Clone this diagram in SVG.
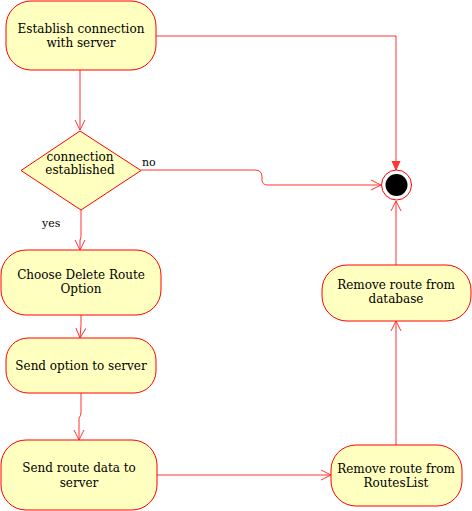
<svg xmlns="http://www.w3.org/2000/svg" width="472" height="511" viewBox="0 0 472 511">
<defs>
<style>
.node{fill:#FFFFC0;stroke:#FF0000;stroke-width:1}
.t{font-family:"DejaVu Serif",serif;font-size:12px;fill:#000;text-anchor:middle}
.lbl{font-family:"DejaVu Serif",serif;font-size:11px;fill:#000}
.c{fill:none;stroke:#FF3333;stroke-width:1}
</style>
<marker id="open" markerWidth="12" markerHeight="12" refX="10" refY="5" orient="auto" markerUnits="userSpaceOnUse" viewBox="0 0 12 10">
<path d="M0,0 L10,5 L0,10" fill="none" stroke="#FF3333" stroke-width="1"/>
</marker>
<marker id="fill" markerWidth="10" markerHeight="10" refX="9" refY="4" orient="auto" markerUnits="userSpaceOnUse" viewBox="0 0 10 8">
<path d="M0,0 L9,4 L0,8 Z" fill="#FF3333" stroke="#FF3333"/>
</marker>
</defs>
<rect width="472" height="511" fill="#fff"/>
<g id="connectors">
<path class="c" d="M80,70 L80,130" marker-end="url(#open)"/>
<path class="c" d="M156,36 L396,36 L396,170" marker-end="url(#fill)"/>
<path class="c" d="M141,170 L255,170 Q262,170 262,177 L262,180 Q262,185 268,185 L381,185" marker-end="url(#open)"/>
<path class="c" d="M81,210 L81,235 Q81,238 80,240 L80,250" marker-end="url(#open)"/>
<path class="c" d="M81,315 L81,325 L80,338" marker-end="url(#open)"/>
<path class="c" d="M81,393 L81,412 Q81,416 79,418 L79,440" marker-end="url(#open)"/>
<path class="c" d="M157,475 L331,475" marker-end="url(#open)"/>
<path class="c" d="M396,445 L396,321" marker-end="url(#open)"/>
<path class="c" d="M396,265 L396,201" marker-end="url(#open)"/>
</g>
<g id="n1"><rect class="node" x="6" y="1" width="150" height="69" rx="25"/><text class="t" x="81" y="33">Establish connection</text><text class="t" x="81" y="47">with server</text></g>
<g id="decision"><polygon class="node" points="80,131 141,170.5 81,210 21,170.5"/><text class="t" x="80" y="161">connection</text><text class="t" x="80" y="174">established</text></g>
<g id="lbl-no"><text class="lbl" x="142" y="166">no</text></g>
<g id="lbl-yes"><text class="lbl" x="42" y="227">yes</text></g>
<g id="n2"><rect class="node" x="1" y="250" width="160" height="65" rx="25"/><text class="t" x="81" y="279">Choose Delete Route</text><text class="t" x="81" y="293">Option</text></g>
<g id="n3"><rect class="node" x="6" y="338" width="150" height="55" rx="22"/><text class="t" x="81" y="370">Send option to server</text></g>
<g id="n4"><rect class="node" x="1" y="440" width="156" height="70" rx="25"/><text class="t" x="79" y="472">Send route data to</text><text class="t" x="79" y="487">server</text></g>
<g id="n5"><rect class="node" x="331" y="445" width="131" height="61" rx="25"/><text class="t" x="396" y="473">Remove route from</text><text class="t" x="396" y="487">RoutesList</text></g>
<g id="n6"><rect class="node" x="322" y="265" width="149" height="56" rx="25"/><text class="t" x="396" y="289">Remove route from</text><text class="t" x="396" y="303">database</text></g>
<g id="end"><circle cx="396.5" cy="185" r="15" fill="#fff" stroke="#FF0000"/><circle cx="396.5" cy="185" r="11" fill="#000"/></g>
</svg>
